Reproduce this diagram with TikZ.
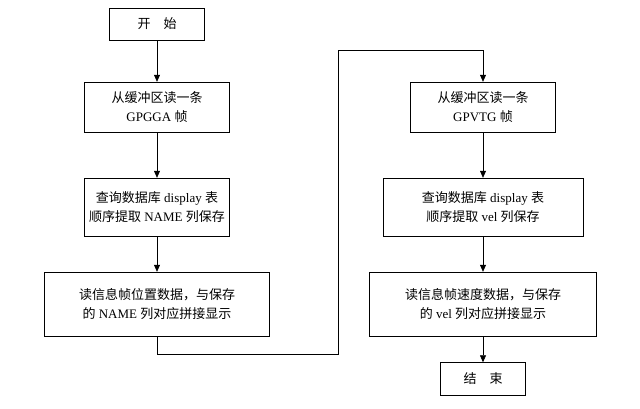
\documentclass[tikz,border=0pt]{standalone}
\usepackage{fontspec}
\setmainfont{Liberation Serif}
\newfontfamily\cjk{Noto Sans CJK SC}
\usetikzlibrary{arrows.meta}
\begin{document}
\begin{tikzpicture}
		[	x=1pt,y=-1pt,
		box/.style={rectangle,draw=black,fill=white,align=center,font=\fontsize{13}{19}\selectfont,inner sep=0pt},
		flow/.style={-{Triangle[length=7pt,width=6pt]},line width=0.6pt}
		]
		\useasboundingbox (0,0) rectangle (640,408);
		\node[box,minimum width=95,minimum height=32] (start) at (157,24){{\cjk 开\quad 始}};
		\node[box,minimum width=145,minimum height=50] (readA) at (157,107){{\cjk 从缓冲区读一条}\\GPGGA {\cjk 帧}};
		\node[box,minimum width=145,minimum height=58] (queryA) at (157,207){{\cjk 查询数据库} display {\cjk 表}\\{\cjk 顺序提取} NAME {\cjk 列保存}};
		\node[box,minimum width=225,minimum height=64] (showA) at (157,304){{\cjk 读信息帧位置数据，与保存}\\{\cjk 的} NAME {\cjk 列对应拼接显示}};

		\node[box,minimum width=145,minimum height=50] (readB) at (483,107){{\cjk 从缓冲区读一条}\\GPVTG {\cjk 帧}};
		\node[box,minimum width=200,minimum height=58] (queryB) at (483,207){{\cjk 查询数据库} display {\cjk 表}\\{\cjk 顺序提取} vel {\cjk 列保存}};
		\node[box,minimum width=227,minimum height=64] (showB) at (483,304){{\cjk 读信息帧速度数据，与保存}\\{\cjk 的} vel {\cjk 列对应拼接显示}};
		\node[box,minimum width=85,minimum height=33] (stop) at (483,379){{\cjk 结\quad 束}};

		\draw[flow] (start) -- (readA);
		\draw[flow] (readA) -- (queryA);
		\draw[flow] (queryA) -- (showA);
		\draw[flow] (showA.south) -- ++(0,18) -| (338,50) -| (readB.north);
		\draw[flow] (readB) -- (queryB);
		\draw[flow] (queryB) -- (showB);
		\draw[flow] (showB) -- (stop);
	\end{tikzpicture}
\end{document}
